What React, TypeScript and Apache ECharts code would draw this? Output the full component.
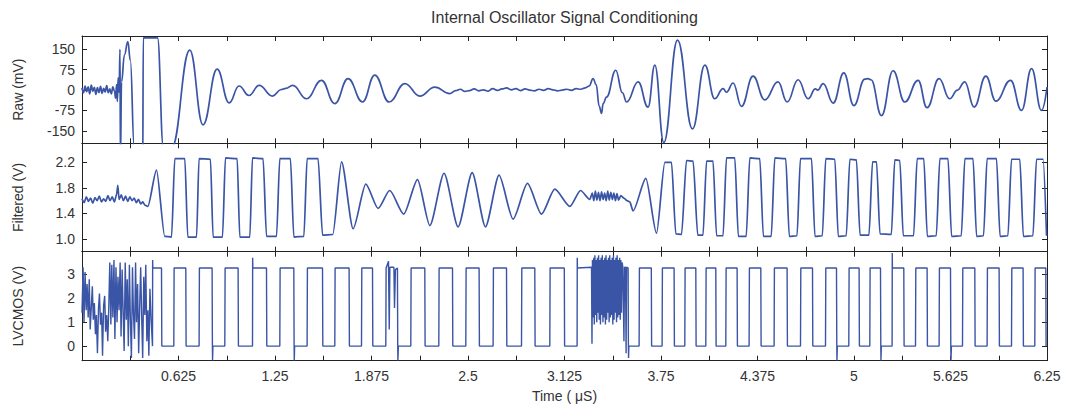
import React, { useEffect, useRef } from "react";
import * as echarts from "echarts";

// ---------- data (time in µs) ----------
const rawPoints: [number, number][] = [
  [0, 8], [0.01, -10], [0.02, 15], [0.03, -6], [0.04, 12], [0.05, -14], [0.06, 18], [0.07, -4],
  [0.08, 10], [0.09, -16], [0.1, 9], [0.11, -9], [0.12, 14], [0.13, -12], [0.14, 6], [0.15, -7],
  [0.16, 16], [0.17, -10], [0.18, 4], [0.19, -14], [0.2, 12], [0.21, -4],
  [0.218, -30], [0.224, 20], [0.229, -42], [0.234, 45], [0.24, -8], [0.246, 150], [0.249, -260],
  [0.256, 30], [0.275, 130], [0.297, 178], [0.313, 110], [0.338, -210], [0.36, -330], [0.393, -330],
  [0.397, 192], [0.489, 192], [0.527, -210], [0.553, -330], [0.582, -210],
  [0.698, 147], [0.784, -128], [0.875, 77], [0.953, -47], [1.017, 15], [1.082, -20], [1.147, 17],
  [1.234, -22], [1.29, 2], [1.32, 6], [1.365, 17], [1.454, -32], [1.551, 36], [1.637, -50],
  [1.723, 42], [1.817, -44], [1.896, 55], [1.989, -44], [2.091, 24], [2.188, -22], [2.285, 11],
  [2.382, -13], [2.42, -2],
  [2.45, 3], [2.48, -5], [2.51, -2], [2.54, 4], [2.57, -3], [2.6, 1], [2.63, -4], [2.66, 5],
  [2.69, -1], [2.72, 4], [2.75, 8], [2.78, 1], [2.81, 5], [2.84, -2], [2.87, 4], [2.9, 0],
  [2.93, -3], [2.96, 3], [2.99, -1], [3.02, 5], [3.05, 1], [3.08, -3], [3.11, 0], [3.14, 3],
  [3.17, -1], [3.2, 5], [3.23, 3], [3.26, 8], [3.285, 15],
  [3.31, 42], [3.33, 20], [3.35, -60], [3.365, -86], [3.375, -50], [3.397, -26], [3.457, 73],
  [3.5, -10], [3.527, -44], [3.602, 30], [3.666, -63], [3.71, 92], [3.768, -193], [3.857, 184],
  [3.954, -143], [4.034, 92], [4.098, -32], [4.152, 5], [4.174, -8], [4.217, 26], [4.271, -60],
  [4.346, 51], [4.422, -36], [4.508, 30], [4.567, -44], [4.638, 38], [4.703, -32], [4.75, 4],
  [4.765, 0], [4.8, 24], [4.865, -48], [4.934, 63], [4.999, -57], [5.07, 40], [5.091, 42],
  [5.11, 38], [5.178, -94], [5.253, 71], [5.329, -44], [5.415, 36], [5.473, -65], [5.551, 42],
  [5.62, -32], [5.67, 0], [5.717, 30], [5.778, -63], [5.854, 51], [5.919, -41], [6.014, 36],
  [6.085, -75], [6.15, 79], [6.214, -75], [6.25, 11],
];

const filteredPoints: [number, number][] = [
  [0, 1.63], [0.014, 1.57], [0.028, 1.66], [0.042, 1.59], [0.056, 1.64], [0.07, 1.56], [0.084, 1.65],
  [0.098, 1.6], [0.112, 1.67], [0.126, 1.58], [0.14, 1.63], [0.154, 1.59], [0.168, 1.68], [0.182, 1.6],
  [0.196, 1.66], [0.21, 1.58], [0.224, 1.7], [0.232, 1.84], [0.24, 1.62], [0.254, 1.69], [0.268, 1.6],
  [0.282, 1.67], [0.296, 1.59], [0.31, 1.66], [0.324, 1.6], [0.338, 1.64], [0.352, 1.57], [0.366, 1.62],
  [0.38, 1.55], [0.394, 1.58], [0.408, 1.53], [0.426, 1.51],
  [0.4825, 2.08], [0.536, 1.04], [0.58, 1.03], [0.601, 2.26], [0.666, 2.26], [0.685, 1.03],
  [0.742, 1.03], [0.758, 2.26], [0.832, 2.25], [0.849, 1.03], [0.91, 1.03], [0.929, 2.27],
  [1.005, 2.26], [1.022, 1.03], [1.087, 1.03], [1.104, 2.27], [1.173, 2.26], [1.195, 1.04],
  [1.26, 1.04], [1.281, 2.26], [1.35, 2.26], [1.372, 1.03], [1.437, 1.04], [1.458, 2.26],
  [1.529, 2.26], [1.558, 1.06], [1.624, 1.07], [1.681, 2.21], [1.756, 1.16], [1.838, 1.86],
  [1.918, 1.48], [1.993, 1.76], [2.084, 1.39], [2.173, 1.93], [2.253, 1.21], [2.345, 2.03],
  [2.436, 1.19], [2.527, 2.04], [2.613, 1.19], [2.701, 2.0], [2.792, 1.31], [2.885, 1.87],
  [2.976, 1.39], [3.062, 1.78], [3.16, 1.51], [3.229, 1.76], [3.289, 1.62],
  [3.305, 1.72], [3.315, 1.6], [3.325, 1.75], [3.335, 1.61], [3.345, 1.73], [3.355, 1.6],
  [3.365, 1.74], [3.375, 1.62], [3.385, 1.72], [3.395, 1.6], [3.405, 1.75], [3.415, 1.61],
  [3.425, 1.73], [3.435, 1.62], [3.445, 1.72], [3.455, 1.6], [3.465, 1.71], [3.475, 1.61],
  [3.49, 1.68], [3.51, 1.64], [3.53, 1.6],
  [3.548, 1.58], [3.569, 1.44], [3.652, 1.95], [3.721, 1.09], [3.775, 2.2], [3.818, 2.2],
  [3.846, 1.08], [3.883, 1.07], [3.915, 2.23], [3.958, 2.22], [3.988, 1.06],
  [4.022, 1.06], [4.045, 2.22], [4.087, 2.22], [4.11, 1.05],
  [4.152, 1.05], [4.174, 2.27], [4.228, 2.27], [4.251, 1.04],
  [4.302, 1.04], [4.325, 2.27], [4.39, 2.26], [4.413, 1.04],
  [4.464, 1.04], [4.487, 2.27], [4.558, 2.26], [4.581, 1.04],
  [4.631, 1.05], [4.653, 2.26], [4.725, 2.26], [4.747, 1.04],
  [4.795, 1.05], [4.817, 2.26], [4.876, 2.25], [4.898, 1.04],
  [4.95, 1.05], [4.973, 2.25], [5.016, 2.24], [5.039, 1.06],
  [5.097, 1.06], [5.12, 2.21], [5.146, 2.21], [5.168, 1.08],
  [5.242, 1.07], [5.264, 2.24], [5.297, 2.23], [5.319, 1.05],
  [5.386, 1.05], [5.409, 2.26], [5.452, 2.26], [5.475, 1.04],
  [5.533, 1.05], [5.556, 2.26], [5.609, 2.26], [5.632, 1.04],
  [5.695, 1.05], [5.718, 2.26], [5.771, 2.26], [5.794, 1.04],
  [5.839, 1.05], [5.862, 2.26], [5.923, 2.26], [5.946, 1.04],
  [5.997, 1.05], [6.02, 2.25], [6.074, 2.25], [6.097, 1.04],
  [6.159, 1.05], [6.182, 2.25], [6.225, 2.25], [6.247, 1.05],
];

// LVCMOS output: pulses as [rise time, fall time]
const lvcmosPulses: [number, number][] = [
  [0.4566, 0.5149], [0.5946, 0.6723], [0.7584, 0.8426], [0.9249, 1.011], [1.1043, 1.1949],
  [1.2811, 1.3718], [1.4579, 1.5577], [1.6373, 1.7299], [1.8102, 1.8815], [1.9676, 2.043],
  [2.1295, 2.2202], [2.3109, 2.3996], [2.4858, 2.5719], [2.6626, 2.7494], [2.8465, 2.9326],
  [3.0298, 3.1237], [3.2066, 3.5369], [3.6082, 3.6872], [3.7571, 3.8348], [3.9041, 3.9754],
  [4.0402, 4.1049], [4.1697, 4.2429], [4.3206, 4.3964], [4.4825, 4.5667], [4.6535, 4.7312],
  [4.8154, 4.8866], [4.9663, 5.033], [5.1023, 5.1716], [5.2468, 5.3225], [5.3983, 5.4735],
  [5.5512, 5.625], [5.7027, 5.7824], [5.8621, 5.9398], [6.0201, 6.0952], [6.171, 6.2422],
];
const lvcmosHigh = 3.27;
const lvcmosLow = 0.0;

const lvcmosStartBurst: [number, number][] = [
  [0, 1.4], [0.007, 3.3], [0.013, 1.0], [0.02, 3.1], [0.027, 1.5], [0.033, 2.6], [0.04, 1.2],
  [0.047, 2.8], [0.053, 0.7], [0.06, 1.6], [0.067, 2.5], [0.073, 1.1], [0.08, 1.8], [0.087, 0.5],
  [0.093, 1.3], [0.1, -0.3], [0.107, 1.6], [0.113, 2.2], [0.12, 0.9], [0.127, 1.4], [0.133, -0.4],
  [0.14, 1.7], [0.147, 2.1], [0.153, 0.6], [0.16, 1.3], [0.167, 0.2], [0.173, 1.5], [0.18, 3.5],
  [0.187, 0.9], [0.193, 3.4], [0.2, 1.2], [0.207, 3.6], [0.213, 0.3], [0.22, 3.3], [0.227, 1.0],
  [0.233, 2.9], [0.24, 1.5], [0.247, 3.5], [0.253, 0.4], [0.26, 3.2], [0.267, 1.3], [0.273, -0.2],
  [0.28, 3.5], [0.287, 1.1], [0.293, 2.8], [0.3, 0.0], [0.307, 3.4], [0.313, 1.2], [0.32, -0.5],
  [0.327, 3.3], [0.333, 1.4], [0.34, 0.3], [0.347, 3.5], [0.353, 1.0], [0.36, 2.6], [0.367, -0.3],
  [0.373, 1.5], [0.38, 3.3], [0.387, 1.1], [0.393, -0.5], [0.4, 2.9], [0.407, 1.3], [0.413, 3.4],
  [0.42, 0.2], [0.427, 1.5], [0.433, -0.4], [0.44, 2.4], [0.447, 1.2],
];

const lvcmosMidBurst: [number, number][] = [
  [3.3, 3.3], [3.303, 0.1], [3.306, 3.6], [3.31, 1.2], [3.314, 3.7], [3.318, 0.9], [3.322, 3.8],
  [3.326, 1.3], [3.33, 3.6], [3.334, 1.0], [3.338, 3.7], [3.342, 1.4], [3.346, 3.8], [3.35, 1.1],
  [3.354, 3.6], [3.358, 0.9], [3.362, 3.7], [3.366, 1.3], [3.37, 3.8], [3.374, 1.0], [3.378, 3.6],
  [3.382, 1.2], [3.386, 3.7], [3.39, 0.9], [3.394, 3.8], [3.398, 1.1], [3.402, 3.6], [3.406, 1.4],
  [3.41, 3.7], [3.414, 1.0], [3.418, 3.8], [3.422, 1.2], [3.426, 3.6], [3.43, 1.3], [3.434, 3.7],
  [3.438, 0.9], [3.442, 3.8], [3.446, 1.1], [3.45, 3.6], [3.454, 1.4], [3.458, 3.7], [3.462, 1.0],
  [3.466, 3.8], [3.47, 1.2], [3.474, 3.6], [3.478, 1.3], [3.482, 3.7], [3.486, 1.1], [3.49, 3.6],
  [3.494, 1.4], [3.498, 3.5], [3.503, 3.3], [3.51, 0.2], [3.514, 3.3], [3.52, 3.3], [3.524, -0.3],
  [3.527, 3.3],
];

const lvcmosGlitches: [number, number][] = [
  [0.4576, 3.6], [1.1053, 3.7], [3.2076, 3.7], [5.2478, 3.9],
  [1.985, 3.55], [1.99, 0.7], [1.994, 3.3], [2.02, 3.3], [2.024, 1.6], [2.03, 3.2],
  [0.8456, -0.6], [0.848, 0], [1.3748, -0.6], [1.377, 0], [2.046, -0.6], [2.049, 0],
  [3.5399, -0.5], [3.542, 0], [4.8896, -0.6], [4.892, 0], [5.1746, -0.6], [5.177, 0],
  [5.628, -0.6], [5.631, 0],
];

const xLabelValues = [0.625, 1.25, 1.875, 2.5, 3.125, 3.75, 4.375, 5, 5.625, 6.25];
const xTickValues = [0.3125, 0.625, 0.9375, 1.25, 1.5625, 1.875, 2.1875, 2.5, 2.8125, 3.125,
  3.4375, 3.75, 4.0625, 4.375, 4.6875, 5, 5.3125, 5.625, 5.9375];
const rawTicks = [-150, -75, 0, 75, 150];
const filteredTicks = [1.0, 1.4, 1.8, 2.2];
const lvcmosTicks = [0, 1, 2, 3];

const titleText = "Internal Oscillator Signal Conditioning";
const xName = "Time ( \u03bcS)";
const panelNames = ["Raw (mV)", "Filtered (V)", "LVCMOS (V)"];

// ---------- chart ----------
const FONT = "Liberation Sans";
const LINE_COLOR = "#3b55a6";
const AXIS_COLOR = "#222";
const TEXT_COLOR = "#333";

function buildLvcmos(): [number, number][] {
  const pts: [number, number][] = [];
  for (const [r, f] of lvcmosPulses) {
    pts.push([r, lvcmosLow], [r + 0.002, lvcmosHigh], [f, lvcmosHigh], [f + 0.002, lvcmosLow]);
  }
  return pts
    .concat(lvcmosStartBurst, lvcmosMidBurst, lvcmosGlitches)
    .sort((a, b) => a[0] - b[0]);
}

export default function App() {
  const ref = useRef<HTMLDivElement>(null);
  useEffect(() => {
    document.body.style.margin = "0";
    if (!ref.current) return;
    const chart = echarts.init(ref.current, undefined, { renderer: "svg" });

    const grids = [
      { left: 82, right: 18, top: 36, height: 107.3 },
      { left: 82, right: 18, top: 143.3, height: 108.4 },
      { left: 82, right: 18, top: 251.7, height: 109 },
    ];
    const yRanges = [
      { min: -196, max: 199, ticks: rawTicks },
      { min: 0.8, max: 2.5, ticks: filteredTicks },
      { min: -0.61, max: 3.95, ticks: lvcmosTicks },
    ];

    const xAxes: any[] = [];
    const yAxes: any[] = [];
    grids.forEach((_, i) => {
      const isBottom = i === 2;
      ["bottom", "top"].forEach((pos) => {
        xAxes.push({
          type: "value",
          gridIndex: i,
          position: pos,
          min: 0,
          max: 6.25,
          axisLine: { show: true, onZero: false, lineStyle: { color: AXIS_COLOR, width: 1 } },
          axisTick: {
            show: true,
            inside: true,
            length: 5,
            customValues: xTickValues,
            lineStyle: { color: AXIS_COLOR },
          },
          axisLabel: {
            show: isBottom && pos === "bottom",
            customValues: xLabelValues,
            formatter: (v: number) => String(v),
            margin: 8,
            color: TEXT_COLOR,
            fontSize: 14,
            fontFamily: FONT,
          },
          splitLine: { show: false },
          name: isBottom && pos === "bottom" ? xName : "",
          nameLocation: "middle",
          nameGap: 28,
          nameTextStyle: { color: TEXT_COLOR, fontSize: 14, fontFamily: FONT },
        });
      });
      ["left", "right"].forEach((pos) => {
        yAxes.push({
          type: "value",
          gridIndex: i,
          position: pos,
          min: yRanges[i].min,
          max: yRanges[i].max,
          axisLine: { show: true, onZero: false, lineStyle: { color: AXIS_COLOR, width: 1 } },
          axisTick: {
            show: true,
            inside: true,
            length: 5,
            customValues: yRanges[i].ticks,
            lineStyle: { color: AXIS_COLOR },
          },
          axisLabel: {
            show: pos === "left",
            customValues: yRanges[i].ticks,
            formatter: (v: number) => (i === 1 ? v.toFixed(1) : String(v)),
            margin: 7,
            color: TEXT_COLOR,
            fontSize: 14,
            fontFamily: FONT,
          },
          splitLine: { show: false },
          name: pos === "left" ? panelNames[i] : "",
          nameLocation: "middle",
          nameRotate: 90,
          nameGap: 57,
          nameTextStyle: { color: TEXT_COLOR, fontSize: 14, fontFamily: FONT },
        });
      });
    });

    const seriesData = [rawPoints, filteredPoints, buildLvcmos()];
    const smoothing = [0.45, 0.25, false];
    const series = seriesData.map((d, i) => ({
      type: "line",
      xAxisIndex: i * 2,
      yAxisIndex: i * 2,
      data: d,
      showSymbol: false,
      smooth: smoothing[i],
      smoothMonotone: "x",
      clip: true,
      lineStyle: { color: LINE_COLOR, width: i === 2 ? 1.4 : 1.7 },
    }));

    chart.setOption({
      animation: false,
      backgroundColor: "#fff",
      grid: grids,
      xAxis: xAxes,
      yAxis: yAxes,
      series,
      graphic: [
        {
          type: "text",
          x: 564.5,
          y: 17,
          style: {
            text: titleText,
            align: "center",
            verticalAlign: "middle",
            fontSize: 16,
            fontFamily: FONT,
            fill: TEXT_COLOR,
          },
        },
      ],
    });
    return () => chart.dispose();
  }, []);
  return <div ref={ref} style={{ width: 1065, height: 404 }} />;
}
